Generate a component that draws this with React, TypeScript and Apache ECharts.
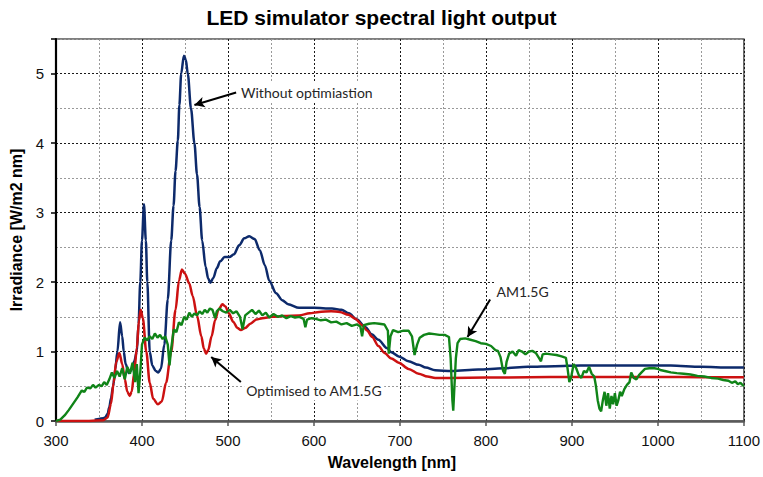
import React, { useEffect, useRef } from "react";
import * as echarts from "echarts";

// Axis ranges and tick layout
const xRange = [300, 1100];
const yRange = [0, 5.5];
const xMajorStep = 100;
const xMinorStep = 50;
const yMajorStep = 1;
const yMinorStep = 0.5;

// LED simulator without optimisation (navy)
const unoptimisedWl = [
  345, 350, 355, 357, 360, 362, 364, 366.4, 369, 371.4, 374.5, 377, 378.8, 381, 384.6, 388, 391, 394, 396, 398, 400,
  402.3, 404.5, 406.2, 409, 412, 416, 419, 422, 426, 430, 434, 436.7, 439, 441.7, 443.5, 445.6, 448.7, 451, 453.3, 457,
  461, 464, 467, 470, 474, 477, 479.6, 483, 487, 491, 496, 501.6, 507, 513, 519, 524.8, 531, 537, 543, 548, 556, 563,
  570, 582.7, 600, 621, 632, 640.7, 650, 660, 667, 675, 685, 690, 698.6, 710, 721.8, 730, 741, 760, 791, 820, 849,
  880, 910, 960, 1015, 1050, 1085, 1100,
];
const unoptimisedIrr = [
  0.02, 0.03, 0.04, 0.05, 0.1, 0.2, 0.33, 0.5, 0.75, 1.0, 1.42, 1.22, 1.0, 0.82, 0.69, 0.74, 0.86, 1.0, 1.4, 2.0, 2.6,
  3.12, 2.6, 2.0, 1.0, 0.8, 0.72, 0.7, 0.75, 1.1, 1.75, 2.6, 3.1, 3.6, 4.04, 4.55, 5.0, 5.26, 5.2, 5.0, 4.5, 4.0, 3.55,
  3.08, 2.6, 2.22, 2.05, 1.99, 2.06, 2.2, 2.3, 2.36, 2.36, 2.4, 2.53, 2.63, 2.66, 2.62, 2.46, 2.24, 2.02, 1.84, 1.74,
  1.68, 1.63, 1.63, 1.62, 1.6, 1.55, 1.46, 1.35, 1.25, 1.17, 1.05, 0.99, 0.93, 0.86, 0.81, 0.77, 0.73, 0.72, 0.74,
  0.76, 0.78, 0.79, 0.8, 0.8, 0.8, 0.78, 0.77, 0.77,
];

// LED simulator optimised to AM1.5G (red)
const optimisedWl = [
  300, 330, 355, 360, 364, 367, 370, 373.8, 377, 380, 383, 385.7, 388, 391, 394, 396.5, 398.5, 401, 405, 409, 413,
  418.6, 423, 428, 434, 439, 443, 446.4, 450, 455, 459, 464, 469, 472, 474.5, 477, 481, 485, 489, 493.5, 497, 501, 506,
  511, 515, 520, 526, 533, 540, 551.5, 565, 582.7, 595, 606, 620, 630, 640, 648.4, 656, 662, 667.7, 675, 682, 690,
  698.6, 710, 721.8, 732, 741, 760, 800, 850, 900, 950, 1000, 1050, 1100,
];
const optimisedIrr = [
  0, 0, 0.01, 0.05, 0.25, 0.55, 0.85, 0.98, 0.82, 0.6, 0.42, 0.36, 0.42, 0.7, 1.05, 1.45, 1.6, 1.48, 1.0, 0.55, 0.32,
  0.24, 0.28, 0.55, 1.0, 1.6, 2.02, 2.18, 2.12, 1.98, 1.8, 1.52, 1.22, 1.04, 0.97, 1.02, 1.22, 1.45, 1.6, 1.68, 1.65,
  1.55, 1.43, 1.34, 1.31, 1.34, 1.4, 1.46, 1.48, 1.5, 1.51, 1.52, 1.55, 1.57, 1.58, 1.57, 1.53, 1.47, 1.38, 1.3, 1.21,
  1.08, 0.98, 0.9, 0.84, 0.75, 0.68, 0.64, 0.62, 0.62, 0.625, 0.63, 0.635, 0.635, 0.635, 0.63, 0.63,
];

// AM1.5G reference spectrum (green)
const am15gWl = [
  300, 305, 310, 315, 320, 325, 330, 333, 336, 340, 343, 346, 350, 353, 356, 359, 362, 365, 368, 371, 374, 377, 380,
  383, 386, 389, 392, 394, 396, 398, 400, 403, 406, 409, 412, 415, 418, 421, 424, 427, 430, 432, 434, 437, 440, 443,
  446, 449, 452, 455, 458, 461, 464, 467, 470, 473, 476, 479, 482, 485, 487, 490, 494, 498, 502, 506, 510, 514, 517,
  520, 524, 528, 532, 536, 540, 544, 548, 553, 558, 563, 568, 573, 578, 583, 588, 590, 592, 597, 602, 608, 614, 620,
  626, 632, 638, 644, 650, 654, 656, 658, 664, 670, 676, 682, 686, 687, 689, 692, 698, 704, 710, 714, 717, 720, 723,
  728, 734, 740, 746, 752, 757, 759, 761, 762, 763, 765, 767, 770, 776, 782, 788, 794, 800, 806, 811, 814, 817, 820,
  822, 824, 827, 831, 835, 838, 842, 846, 850, 854, 858, 862, 864, 866, 870, 876, 882, 888, 893, 895, 897, 899, 902,
  905, 908, 911, 914, 917, 920, 923, 926, 928, 930, 932, 934, 936, 938, 940, 942, 944, 946, 948, 950, 952, 954, 956,
  958, 961, 964, 967, 969, 972, 975, 978, 981, 985, 990, 996, 1000, 1004, 1008, 1015, 1022, 1030, 1038, 1046, 1054,
  1062, 1070, 1076, 1082, 1086, 1090, 1093, 1096, 1100,
];
const am15gIrr = [
  0, 0.02, 0.08, 0.16, 0.25, 0.34, 0.44, 0.42, 0.48, 0.47, 0.52, 0.48, 0.52, 0.5, 0.56, 0.52, 0.6, 0.7, 0.62, 0.72,
  0.64, 0.76, 0.6, 0.78, 0.68, 0.84, 0.56, 0.82, 0.4, 0.7, 1.1, 1.2, 1.16, 1.22, 1.18, 1.26, 1.2, 1.24, 1.18, 1.22, 1.1,
  0.8, 1.05, 1.32, 1.28, 1.42, 1.38, 1.5, 1.46, 1.56, 1.5, 1.55, 1.52, 1.58, 1.54, 1.6, 1.56, 1.62, 1.6, 1.48, 1.58,
  1.62, 1.58, 1.56, 1.6, 1.55, 1.58, 1.5, 1.32, 1.52, 1.56, 1.6, 1.54, 1.59, 1.52, 1.56, 1.49, 1.54, 1.5, 1.52, 1.48,
  1.51, 1.49, 1.5, 1.47, 1.35, 1.46, 1.48, 1.47, 1.45, 1.46, 1.42, 1.43, 1.39, 1.41, 1.37, 1.39, 1.36, 1.22, 1.38, 1.4,
  1.41, 1.4, 1.39, 1.3, 0.97, 1.22, 1.31, 1.28, 1.3, 1.3, 1.22, 0.95, 1.1, 1.2, 1.24, 1.26, 1.25, 1.24, 1.24, 1.21,
  0.9, 0.3, 0.15, 0.4, 0.9, 1.12, 1.18, 1.19, 1.17, 1.15, 1.12, 1.11, 1.08, 1.02, 1.01, 0.92, 0.72, 0.68, 0.85, 0.97,
  1.0, 0.94, 1.02, 1.0, 0.96, 1.0, 1.01, 0.98, 0.9, 0.86, 0.96, 0.97, 0.96, 0.95, 0.93, 0.91, 0.75, 0.56, 0.62, 0.82,
  0.76, 0.66, 0.62, 0.72, 0.7, 0.78, 0.68, 0.64, 0.5, 0.3, 0.18, 0.14, 0.3, 0.42, 0.22, 0.4, 0.18, 0.36, 0.24, 0.4,
  0.22, 0.3, 0.42, 0.36, 0.46, 0.52, 0.56, 0.7, 0.62, 0.6, 0.66, 0.7, 0.75, 0.76, 0.76, 0.75, 0.73, 0.72, 0.7, 0.69,
  0.68, 0.67, 0.65, 0.64, 0.62, 0.61, 0.59, 0.58, 0.55, 0.57, 0.53, 0.55, 0.5,
];

// Callouts: label anchor, arrow tail and arrow tip, all in data units
const calloutTexts = ["Without optimiastion", "Optimised to AM1.5G", "AM1.5G"];
const calloutAnchors = [
  [510, 4.73],
  [516, 0.44],
  [807, 1.86],
];
const calloutTails = [
  [509.5, 4.73],
  [515, 0.56],
  [804.9, 1.75],
];
const calloutTips = [
  [461, 4.55],
  [480.5, 0.92],
  [778.6, 1.21],
];

const SANS = "'Liberation Sans', Arial, sans-serif";

const pairs = (xs: number[], ys: number[]) => xs.map((x, i) => [x, ys[i]]);

export default function App() {
  const ref = useRef<HTMLDivElement>(null);

  useEffect(() => {
    if (!ref.current) return;
    const chart = echarts.init(ref.current, null, { renderer: "svg" });

    // Major lines (first colour) alternate with the half-step minor lines
    const gridLineStyle = { color: ["#1a1a1a", "#999999"], type: [2, 2], width: 1 };

    chart.setOption({
      animation: false,
      backgroundColor: "#ffffff",
      title: {
        text: "LED simulator spectral light output",
        left: "center",
        top: 2,
        textStyle: { fontFamily: SANS, fontWeight: "bold", fontSize: 21, color: "#000" },
      },
      grid: {
        left: 56,
        right: 17,
        top: 39,
        bottom: 56,
        show: true,
        borderColor: "#555555",
        borderWidth: 1.5,
        backgroundColor: "transparent",
      },
      xAxis: [
        {
          type: "value",
          min: xRange[0],
          max: xRange[1],
          interval: xMajorStep,
          name: "Wavelength [nm]",
          nameLocation: "middle",
          nameGap: 33,
          nameTextStyle: {
            fontFamily: SANS,
            fontWeight: "bold",
            fontSize: 16,
            color: "#000",
            padding: [0, 16, 0, 0],
          },
          axisLine: { show: true, onZero: false, lineStyle: { color: "#595959", width: 2.5 } },
          axisTick: { show: true, length: 5, lineStyle: { color: "#595959", width: 1.5 } },
          axisLabel: {
            margin: 12,
            fontFamily: SANS,
            fontSize: 15,
            color: "#111",
            formatter: (v: number) => String(v),
          },
          splitLine: { show: false },
        },
        {
          type: "value",
          min: xRange[0],
          max: xRange[1],
          interval: xMinorStep,
          position: "bottom",
          axisLine: { show: false },
          axisTick: { show: false },
          axisLabel: { show: false },
          splitLine: { show: true, lineStyle: gridLineStyle },
        },
      ],
      yAxis: [
        {
          type: "value",
          min: yRange[0],
          max: yRange[1],
          interval: yMajorStep,
          name: "Irradiance [W/m2 nm]",
          nameLocation: "middle",
          nameGap: 30,
          nameTextStyle: { fontFamily: SANS, fontWeight: "bold", fontSize: 16, color: "#000" },
          axisLine: { show: true, onZero: false, lineStyle: { color: "#000", width: 2.2 } },
          axisTick: { show: true, length: 5, lineStyle: { color: "#000", width: 1.5 } },
          axisLabel: {
            margin: 12,
            fontFamily: SANS,
            fontSize: 15,
            color: "#111",
            formatter: (v: number) => (Number.isInteger(v) ? String(v) : ""),
          },
          splitLine: { show: false },
        },
        {
          type: "value",
          min: yRange[0],
          max: yRange[1],
          interval: yMinorStep,
          position: "left",
          axisLine: { show: false },
          axisTick: { show: false },
          axisLabel: { show: false },
          splitLine: { show: true, lineStyle: gridLineStyle },
        },
      ],
      series: [
        {
          name: "Without optimisation",
          type: "line",
          data: pairs(unoptimisedWl, unoptimisedIrr),
          showSymbol: false,
          smooth: 0.3,
          smoothMonotone: "x",
          lineStyle: { color: "#0d2a6b", width: 2.5 },
          z: 3,
        },
        {
          name: "Optimised to AM1.5G",
          type: "line",
          data: pairs(optimisedWl, optimisedIrr),
          showSymbol: false,
          smooth: 0.3,
          smoothMonotone: "x",
          lineStyle: { color: "#cc1111", width: 2.5 },
          z: 4,
        },
        {
          name: "AM1.5G",
          type: "line",
          data: pairs(am15gWl, am15gIrr),
          showSymbol: false,
          lineStyle: { color: "#108418", width: 2.4 },
          z: 5,
        },
        {
          name: "callouts",
          type: "line",
          data: [],
          silent: true,
          z: 6,
          markLine: {
            silent: true,
            symbol: ["none", "arrow"],
            symbolSize: [8, 10],
            label: { show: false },
            lineStyle: { color: "#000", width: 2, type: "solid" },
            data: calloutTails.map((t, i) => [{ coord: t }, { coord: calloutTips[i] }]),
          },
          markPoint: {
            silent: true,
            data: calloutTexts.map((text, i) => ({
              name: text,
              coord: calloutAnchors[i],
              symbol: "rect",
              symbolSize: 1,
              itemStyle: { color: "rgba(0,0,0,0)" },
              label: {
                show: true,
                position: "right",
                distance: 2,
                formatter: "{b}",
                fontFamily: "Lato, 'Open Sans', sans-serif",
                fontSize: 14,
                color: "#262626",
                backgroundColor: "#ffffff",
                padding: [3, 2, 3, 2],
              },
            })),
          },
        },
      ],
    });

    return () => chart.dispose();
  }, []);

  return (
    <div
      ref={ref}
      style={{ position: "fixed", left: 0, top: 0, width: 763, height: 477, background: "#fff" }}
    />
  );
}
